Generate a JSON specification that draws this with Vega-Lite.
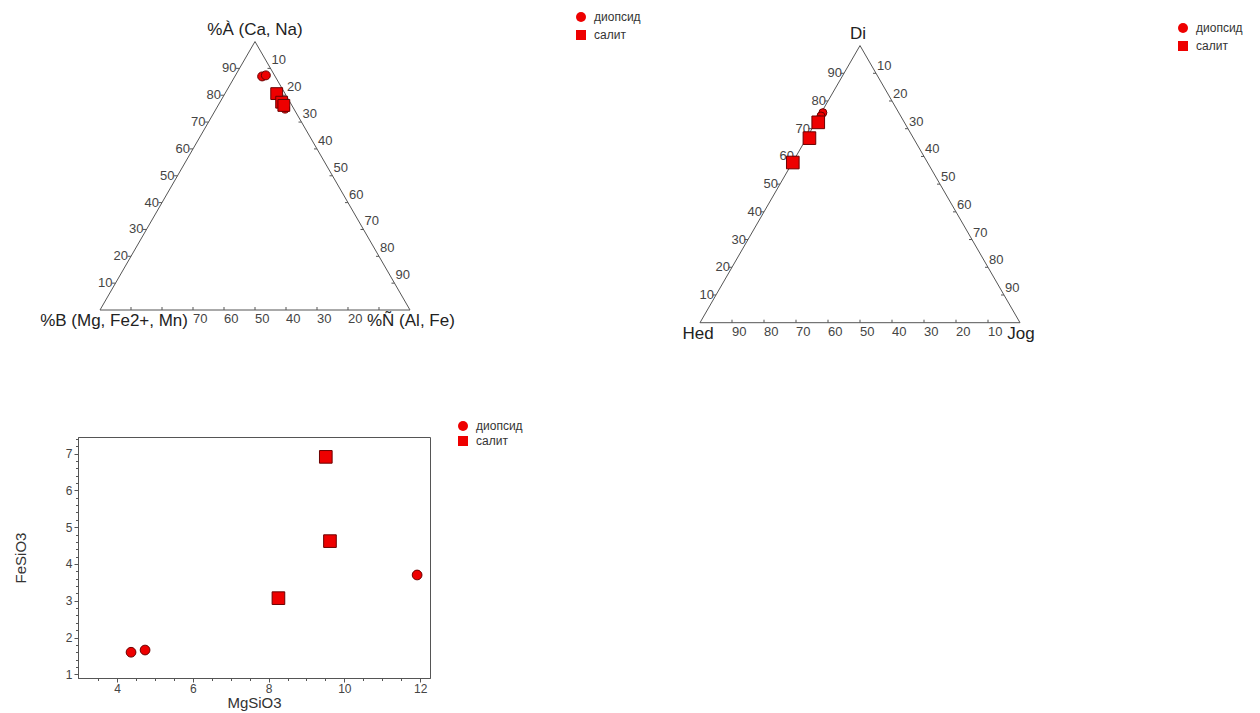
{
  "$schema": "https://vega.github.io/schema/vega-lite/v6.json",
  "background": "white",
  "padding": {"left": 12, "top": 0, "right": 0, "bottom": 0},
  "config": {
    "font": "Liberation Sans",
    "view": {"stroke": "#555"},
    "legend": {"title": null, "labelFontSize": 12, "labelColor": "#333", "symbolFillColor": "#ee0000", "symbolStrokeColor": "#7a0000", "symbolStrokeWidth": 0.6, "symbolSize": 100, "padding": 0, "labelOffset": 7}
  },
  "datasets": {
    "t1frame": [{"A":0,"B":100,"C":0,"o":1},{"A":0,"B":0,"C":100,"o":2},{"A":100,"B":0,"C":0,"o":3},{"A":0,"B":100,"C":0,"o":4}],
    "t1left": [{"A":10,"C":0,"lab":"10"},{"A":20,"C":0,"lab":"20"},{"A":30,"C":0,"lab":"30"},{"A":40,"C":0,"lab":"40"},{"A":50,"C":0,"lab":"50"},{"A":60,"C":0,"lab":"60"},{"A":70,"C":0,"lab":"70"},{"A":80,"C":0,"lab":"80"},{"A":90,"C":0,"lab":"90"}],
    "t1right": [{"A":90,"C":10,"lab":"10"},{"A":80,"C":20,"lab":"20"},{"A":70,"C":30,"lab":"30"},{"A":60,"C":40,"lab":"40"},{"A":50,"C":50,"lab":"50"},{"A":40,"C":60,"lab":"60"},{"A":30,"C":70,"lab":"70"},{"A":20,"C":80,"lab":"80"},{"A":10,"C":90,"lab":"90"}],
    "t1bottom": [{"A":0,"C":90,"B":10,"lab":"10"},{"A":0,"C":80,"B":20,"lab":"20"},{"A":0,"C":70,"B":30,"lab":"30"},{"A":0,"C":60,"B":40,"lab":"40"},{"A":0,"C":50,"B":50,"lab":"50"},{"A":0,"C":40,"B":60,"lab":"60"},{"A":0,"C":30,"B":70,"lab":"70"},{"A":0,"C":20,"B":80,"lab":"80"},{"A":0,"C":10,"B":90,"lab":"90"}],
    "t1pts": [
      {"A":87.0,"B":4.2,"C":8.8,"type":"диопсид"},
      {"A":87.4,"B":2.8,"C":9.8,"type":"диопсид"},
      {"A":75.0,"B":2.8,"C":22.2,"type":"диопсид"},
      {"A":80.6,"B":2.7,"C":16.7,"type":"салит"},
      {"A":77.4,"B":2.7,"C":19.9,"type":"салит"},
      {"A":76.2,"B":2.6,"C":21.2,"type":"салит"}
    ],
    "t2pts": [
      {"A":75.8,"B":23.7,"C":0.5,"type":"диопсид"},
      {"A":74.6,"B":24.9,"C":0.5,"type":"диопсид"},
      {"A":73.2,"B":26.2,"C":0.6,"type":"диопсид"},
      {"A":72.3,"B":26.9,"C":0.8,"type":"салит"},
      {"A":66.6,"B":32.5,"C":0.9,"type":"салит"},
      {"A":57.8,"B":42.1,"C":0.1,"type":"салит"}
    ],
    "sc": [
      {"MgSiO3":4.37,"FeSiO3":1.60,"type":"диопсид"},
      {"MgSiO3":4.74,"FeSiO3":1.66,"type":"диопсид"},
      {"MgSiO3":11.92,"FeSiO3":3.70,"type":"диопсид"},
      {"MgSiO3":8.26,"FeSiO3":3.07,"type":"салит"},
      {"MgSiO3":9.51,"FeSiO3":6.91,"type":"салит"},
      {"MgSiO3":9.62,"FeSiO3":4.62,"type":"салит"}
    ]
  },
  "spacing": 69,
  "resolve": {"scale": {"shape": "independent", "x": "independent", "y": "independent"}, "legend": {"shape": "independent"}},
  "vconcat": [
    {
      "spacing": 0,
      "resolve": {"scale": {"shape": "independent", "x": "independent", "y": "independent"}, "legend": {"shape": "independent"}},
      "hconcat": [
        {
          "width": 552, "height": 350,
          "view": {"stroke": null},
          "encoding": {
            "x": {"field": "x", "type": "quantitative", "scale": {"domain": [-7.097, 170.968], "nice": false, "zero": false}, "axis": null},
            "y": {"field": "y", "type": "quantitative", "scale": {"domain": [-12.903, 100], "nice": false, "zero": false}, "axis": null}
          },
          "layer": [
            {"data": {"name": "t1frame"}, "transform": [{"calculate": "datum.C + datum.A / 2", "as": "x"}, {"calculate": "datum.A * 0.8660254", "as": "y"}],
             "mark": {"type": "line", "color": "#555", "strokeWidth": 1}, "encoding": {"order": {"field": "o", "type": "quantitative"}}},
            {"data": {"name": "t1left"}, "transform": [{"calculate": "datum.C + datum.A / 2", "as": "x"}, {"calculate": "datum.A * 0.8660254", "as": "y"}],
             "mark": {"type": "point", "shape": "M -1 0 L 0 0", "size": 49, "filled": false, "stroke": "#555", "strokeWidth": 1, "opacity": 1}},
            {"data": {"name": "t1left"}, "transform": [{"calculate": "datum.C + datum.A / 2", "as": "x"}, {"calculate": "datum.A * 0.8660254", "as": "y"}],
             "mark": {"type": "text", "align": "right", "baseline": "middle", "dx": -3, "fontSize": 13, "fill": "#444"}, "encoding": {"text": {"field": "lab"}}},
            {"data": {"name": "t1right"}, "transform": [{"calculate": "datum.C + datum.A / 2", "as": "x"}, {"calculate": "datum.A * 0.8660254", "as": "y"}],
             "mark": {"type": "point", "shape": "M -1 0 L 0 0", "size": 36, "filled": false, "stroke": "#555", "strokeWidth": 1, "opacity": 1}},
            {"data": {"name": "t1right"}, "transform": [{"calculate": "datum.C + datum.A / 2", "as": "x"}, {"calculate": "datum.A * 0.8660254", "as": "y"}],
             "mark": {"type": "text", "align": "left", "baseline": "alphabetic", "dx": 1, "dy": -4, "fontSize": 13, "fill": "#444"}, "encoding": {"text": {"field": "lab"}}},
            {"data": {"name": "t1bottom"}, "transform": [{"calculate": "datum.C + datum.A / 2", "as": "x"}, {"calculate": "datum.A * 0.8660254", "as": "y"}],
             "mark": {"type": "point", "shape": "M 0 0 L 0 -1", "size": 36, "filled": false, "stroke": "#555", "strokeWidth": 1, "opacity": 1}},
            {"data": {"name": "t1bottom"}, "transform": [{"filter": "datum.B >= 20 && datum.B <= 70"}, {"calculate": "datum.C + datum.A / 2", "as": "x"}, {"calculate": "datum.A * 0.8660254", "as": "y"}],
             "mark": {"type": "text", "align": "left", "baseline": "top", "dx": 0, "dy": 3, "fontSize": 13, "fill": "#444"}, "encoding": {"text": {"field": "lab"}}},
            {"data": {"values": [{"A": 100, "C": 0, "lab": "%À (Ca, Na)"}]}, "transform": [{"calculate": "datum.C + datum.A / 2", "as": "x"}, {"calculate": "datum.A * 0.8660254", "as": "y"}],
             "mark": {"type": "text", "align": "center", "baseline": "middle", "dy": -12, "fontSize": 17, "fill": "#222"}, "encoding": {"text": {"field": "lab"}}},
            {"data": {"values": [{"A": 0, "C": 0, "lab": "%B (Mg, Fe2+, Mn)"}]}, "transform": [{"calculate": "datum.C + datum.A / 2", "as": "x"}, {"calculate": "datum.A * 0.8660254", "as": "y"}],
             "mark": {"type": "text", "align": "right", "baseline": "middle", "dx": 88, "dy": 11, "fontSize": 17, "fill": "#222"}, "encoding": {"text": {"field": "lab"}}},
            {"data": {"values": [{"A": 0, "C": 100, "lab": "%Ñ (Al, Fe)"}]}, "transform": [{"calculate": "datum.C + datum.A / 2", "as": "x"}, {"calculate": "datum.A * 0.8660254", "as": "y"}],
             "mark": {"type": "text", "align": "left", "baseline": "middle", "dx": -43, "dy": 11, "fontSize": 17, "fill": "#222"}, "encoding": {"text": {"field": "lab"}}},
            {"data": {"name": "t1pts"}, "transform": [{"filter": "datum.type === 'диопсид'"}, {"calculate": "datum.C + datum.A / 2", "as": "x"}, {"calculate": "datum.A * 0.8660254", "as": "y"}],
             "mark": {"type": "point", "filled": true, "fill": "#ee0000", "stroke": "#6b0000", "strokeWidth": 1, "opacity": 1, "size": 80},
             "encoding": {"shape": {"field": "type", "type": "nominal", "scale": {"domain": ["диопсид", "салит"], "range": ["circle", "square"]}, "legend": {"orient": "none", "legendX": 497, "legendY": 11, "rowPadding": 4}}}},
            {"data": {"name": "t1pts"}, "transform": [{"filter": "datum.type === 'салит'"}, {"calculate": "datum.C + datum.A / 2", "as": "x"}, {"calculate": "datum.A * 0.8660254", "as": "y"}],
             "mark": {"type": "point", "filled": true, "fill": "#ee0000", "stroke": "#6b0000", "strokeWidth": 1, "opacity": 1, "size": 140},
             "encoding": {"shape": {"field": "type", "type": "nominal", "scale": {"domain": ["диопсид", "салит"], "range": ["circle", "square"]}, "legend": {"orient": "none", "legendX": 497, "legendY": 11, "rowPadding": 4}}}}
          ]
        },
        {
          "width": 610, "height": 350,
          "view": {"stroke": null},
          "encoding": {
            "x": {"field": "x", "type": "quantitative", "scale": {"domain": [-18.4375, 172.1875], "nice": false, "zero": false}, "axis": null},
            "y": {"field": "y", "type": "quantitative", "scale": {"domain": [-8.531, 100.844], "nice": false, "zero": false}, "axis": null}
          },
          "layer": [
            {"data": {"name": "t1frame"}, "transform": [{"calculate": "datum.C + datum.A / 2", "as": "x"}, {"calculate": "datum.A * 0.8660254", "as": "y"}],
             "mark": {"type": "line", "color": "#555", "strokeWidth": 1}, "encoding": {"order": {"field": "o", "type": "quantitative"}}},
            {"data": {"name": "t1left"}, "transform": [{"calculate": "datum.C + datum.A / 2", "as": "x"}, {"calculate": "datum.A * 0.8660254", "as": "y"}],
             "mark": {"type": "point", "shape": "M -1 0 L 0 0", "size": 49, "filled": false, "stroke": "#555", "strokeWidth": 1, "opacity": 1}},
            {"data": {"name": "t1left"}, "transform": [{"calculate": "datum.C + datum.A / 2", "as": "x"}, {"calculate": "datum.A * 0.8660254", "as": "y"}],
             "mark": {"type": "text", "align": "right", "baseline": "middle", "dx": -2, "fontSize": 13, "fill": "#444"}, "encoding": {"text": {"field": "lab"}}},
            {"data": {"name": "t1right"}, "transform": [{"calculate": "datum.C + datum.A / 2", "as": "x"}, {"calculate": "datum.A * 0.8660254", "as": "y"}],
             "mark": {"type": "point", "shape": "M -1 0 L 0 0", "size": 36, "filled": false, "stroke": "#555", "strokeWidth": 1, "opacity": 1}},
            {"data": {"name": "t1right"}, "transform": [{"calculate": "datum.C + datum.A / 2", "as": "x"}, {"calculate": "datum.A * 0.8660254", "as": "y"}],
             "mark": {"type": "text", "align": "left", "baseline": "alphabetic", "dx": 1, "dy": -3, "fontSize": 13, "fill": "#444"}, "encoding": {"text": {"field": "lab"}}},
            {"data": {"name": "t1bottom"}, "transform": [{"calculate": "datum.C + datum.A / 2", "as": "x"}, {"calculate": "datum.A * 0.8660254", "as": "y"}],
             "mark": {"type": "point", "shape": "M 0 0 L 0 -1", "size": 36, "filled": false, "stroke": "#555", "strokeWidth": 1, "opacity": 1}},
            {"data": {"name": "t1bottom"}, "transform": [{"calculate": "datum.C + datum.A / 2", "as": "x"}, {"calculate": "datum.A * 0.8660254", "as": "y"}],
             "mark": {"type": "text", "align": "left", "baseline": "top", "dx": 0, "dy": 3, "fontSize": 13, "fill": "#444"}, "encoding": {"text": {"field": "lab"}}},
            {"data": {"values": [{"A": 100, "C": 0, "lab": "Di"}]}, "transform": [{"calculate": "datum.C + datum.A / 2", "as": "x"}, {"calculate": "datum.A * 0.8660254", "as": "y"}],
             "mark": {"type": "text", "align": "center", "baseline": "middle", "dx": -2, "dy": -12, "fontSize": 17, "fill": "#222"}, "encoding": {"text": {"field": "lab"}}},
            {"data": {"values": [{"A": 0, "C": 0, "lab": "Hed"}]}, "transform": [{"calculate": "datum.C + datum.A / 2", "as": "x"}, {"calculate": "datum.A * 0.8660254", "as": "y"}],
             "mark": {"type": "text", "align": "center", "baseline": "middle", "dx": -2, "dy": 11, "fontSize": 17, "fill": "#222"}, "encoding": {"text": {"field": "lab"}}},
            {"data": {"values": [{"A": 0, "C": 100, "lab": "Jog"}]}, "transform": [{"calculate": "datum.C + datum.A / 2", "as": "x"}, {"calculate": "datum.A * 0.8660254", "as": "y"}],
             "mark": {"type": "text", "align": "center", "baseline": "middle", "dx": 1, "dy": 11, "fontSize": 17, "fill": "#222"}, "encoding": {"text": {"field": "lab"}}},
            {"data": {"name": "t2pts"}, "transform": [{"filter": "datum.type === 'диопсид'"}, {"calculate": "datum.C + datum.A / 2", "as": "x"}, {"calculate": "datum.A * 0.8660254", "as": "y"}],
             "mark": {"type": "point", "filled": true, "fill": "#ee0000", "stroke": "#6b0000", "strokeWidth": 1, "opacity": 1, "size": 64},
             "encoding": {"shape": {"field": "type", "type": "nominal", "scale": {"domain": ["диопсид", "салит"], "range": ["circle", "square"]}, "legend": {"orient": "none", "legendX": 536, "legendY": 22, "rowPadding": 4}}}},
            {"data": {"name": "t2pts"}, "transform": [{"filter": "datum.type === 'салит'"}, {"calculate": "datum.C + datum.A / 2", "as": "x"}, {"calculate": "datum.A * 0.8660254", "as": "y"}],
             "mark": {"type": "point", "filled": true, "fill": "#ee0000", "stroke": "#6b0000", "strokeWidth": 1, "opacity": 1, "size": 160},
             "encoding": {"shape": {"field": "type", "type": "nominal", "scale": {"domain": ["диопсид", "салит"], "range": ["circle", "square"]}, "legend": {"orient": "none", "legendX": 536, "legendY": 22, "rowPadding": 4}}}}
          ]
        }
      ]
    },
    {
      "width": 352, "height": 241,
      "data": {"name": "sc"},
      "encoding": {
        "x": {"field": "MgSiO3", "type": "quantitative", "scale": {"domain": [2.97, 12.26], "nice": false, "zero": false},
              "axis": {"title": "MgSiO3", "values": [3.5,4,4.5,5,5.5,6,6.5,7,7.5,8,8.5,9,9.5,10,10.5,11,11.5,12],
                       "labelExpr": "datum.value % 2 === 0 ? format(datum.value, 'd') : ''",
                       "tickSize": {"condition": {"test": "datum.value % 2 === 0", "value": 4}, "value": 2.5},
                       "grid": false, "labelFontSize": 12, "labelColor": "#444", "labelPadding": 1, "labelOverlap": false, "labelFlush": false,
                       "titleFontSize": 15, "titleFontWeight": "normal", "titleColor": "#333", "titlePadding": 1,
                       "domainColor": "#555", "tickColor": "#555"}},
        "y": {"field": "FeSiO3", "type": "quantitative", "scale": {"domain": [0.9, 7.45], "nice": false, "zero": false},
              "axis": {"title": "FeSiO3", "values": [1,1.2,1.4,1.6,1.8,2,2.2,2.4,2.6,2.8,3,3.2,3.4,3.6,3.8,4,4.2,4.4,4.6,4.8,5,5.2,5.4,5.6,5.8,6,6.2,6.4,6.6,6.8,7,7.2,7.4],
                       "labelExpr": "datum.value % 1 === 0 ? format(datum.value, 'd') : ''",
                       "tickSize": {"condition": {"test": "datum.value % 1 === 0", "value": 4}, "value": 2.5},
                       "grid": false, "labelFontSize": 12, "labelColor": "#444", "labelPadding": 2, "labelOverlap": false, "labelFlush": false,
                       "titleFontSize": 15, "titleFontWeight": "normal", "titleColor": "#333", "titlePadding": 37,
                       "domainColor": "#555", "tickColor": "#555"}},
        "shape": {"field": "type", "type": "nominal", "scale": {"domain": ["диопсид", "салит"], "range": ["circle", "square"]},
                  "legend": {"orient": "none", "legendX": 379, "legendY": -17, "rowPadding": 1}}
      },
      "layer": [
        {"transform": [{"filter": "datum.type === 'диопсид'"}],
         "mark": {"type": "point", "filled": true, "fill": "#ee0000", "stroke": "#6b0000", "strokeWidth": 1, "opacity": 1, "size": 95}},
        {"transform": [{"filter": "datum.type === 'салит'"}],
         "mark": {"type": "point", "filled": true, "fill": "#ee0000", "stroke": "#6b0000", "strokeWidth": 1, "opacity": 1, "size": 160}}
      ]
    }
  ]
}
